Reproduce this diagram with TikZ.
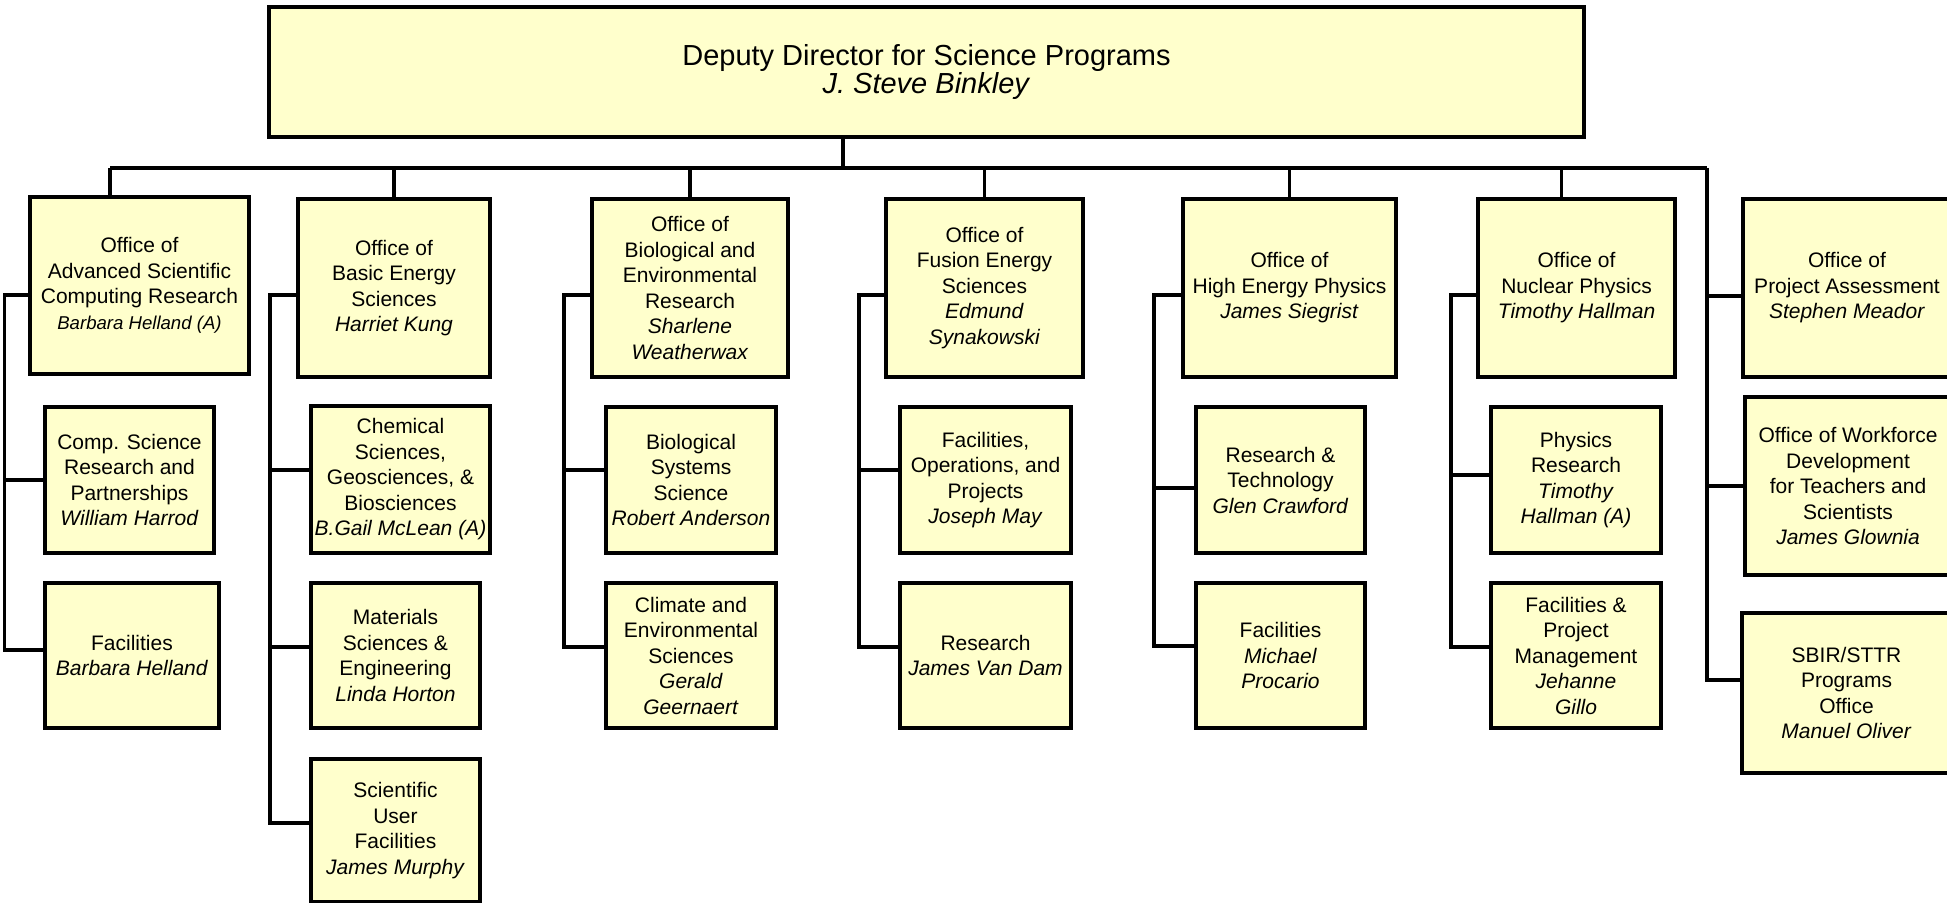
\documentclass[tikz,border=0pt]{standalone}
\usepackage{fontspec}
\setmainfont{Liberation Sans}
\usepackage{tikz}
\usetikzlibrary{calc,positioning}
\definecolor{boxfill}{RGB}{255,255,204}
\newcommand{\boxfont}{\fontsize{10.5}{12.75}\selectfont}
\tikzset{unit/.style={draw,fill=boxfill,line width=1.9pt,align=center,inner sep=1pt,font=\boxfont},
  px/.style 2 args={minimum width=#1*0.5pt,minimum height=#2*0.5pt},
  link/.style={line width=1.8pt}}

\begin{document}
\begin{tikzpicture}[x=0.5pt,y=-0.5pt]

\useasboundingbox (0,0) rectangle (1947,903);
\clip (0,0) rectangle (1947,903);

% Nodes
\node[unit,px={1315}{130},font=\fontsize{14.5}{14}\selectfont] (dd) at (926.5,72) {Deputy Director for Science Programs\\\textit{J. Steve Binkley}};

\node[unit,px={219}{177}] (ascr) at (139.5,285.5) {Office of\\Advanced Scientific\\Computing Research\\{\fontsize{9.3}{12.75}\selectfont\itshape Barbara Helland (A)}};
\node[unit,px={192}{178}] (bes) at (394,288) {Office of\\Basic Energy\\Sciences\\\textit{Harriet Kung}};
\node[unit,px={196}{178}] (ber) at (690,288) {Office of\\Biological and\\Environmental\\Research\\\textit{Sharlene}\\\textit{Weatherwax}};
\node[unit,px={197}{178}] (fes) at (984.5,288) {Office of\\Fusion Energy\\Sciences\\\textit{Edmund}\\\textit{Synakowski}};
\node[unit,px={213}{178}] (hep) at (1289.5,288) {Office of\\High Energy Physics\\\textit{James Siegrist}};
\node[unit,px={197}{178}] (np) at (1576.5,288) {Office of\\Nuclear Physics\\\textit{Timothy Hallman}};
\node[unit,px={208}{178}] (pa) at (1847,288) {Office of\\Project Assessment\\\textit{Stephen Meador}};

% The divisions
\node[unit,px={169}{146}] (csrp) at (129.5,480) {Comp. Science\\Research and\\Partnerships\\\textit{William Harrod}};
\node[unit,px={174}{145}] (afac) at (132,655.5) {Facilities\\\textit{Barbara Helland}};

\node[unit,px={179}{147}] (chem) at (400.5,479.5) {Chemical\\Sciences,\\Geosciences, \&\\Biosciences\\\textit{B.Gail McLean (A)}};
\node[unit,px={169}{145}] (mse) at (395.5,655.5) {Materials\\Sciences \&\\Engineering\\\textit{Linda Horton}};
\node[unit,px={169}{143}] (suf) at (395.5,830.5) {Scientific\\User\\Facilities\\\textit{James Murphy}};

\node[unit,px={170}{146}] (bss) at (691,480) {Biological\\Systems\\Science\\\textit{Robert Anderson}};
\node[unit,px={170}{145}] (ces) at (691,655.5) {Climate and\\Environmental\\Sciences\\\textit{Gerald}\\\textit{Geernaert}};

\node[unit,px={171}{146}] (fop) at (985.5,480) {Facilities,\\Operations, and\\Projects\\\textit{Joseph May}};
\node[unit,px={171}{145}] (fres) at (985.5,655.5) {Research\\\textit{James Van Dam}};

\node[unit,px={169}{146}] (rt) at (1280.5,480) {Research \&\\Technology\\\textit{Glen Crawford}};
\node[unit,px={169}{145}] (hfac) at (1280.5,655.5) {Facilities\\\textit{Michael}\\\textit{Procario}};

\node[unit,px={170}{146}] (phr) at (1576,480) {Physics\\Research\\\textit{Timothy}\\\textit{Hallman (A)}};
\node[unit,px={170}{145}] (fpm) at (1576,655.5) {Facilities \&\\Project\\Management\\\textit{Jehanne}\\\textit{Gillo}};

\node[unit,px={206}{178}] (wfd) at (1848,486) {Office of Workforce\\Development\\for Teachers and\\Scientists\\\textit{James Glownia}};
\node[unit,px={209}{160}] (sbir) at (1846.5,693) {SBIR/STTR\\Programs\\Office\\\textit{Manuel Oliver}};

% The bus
\coordinate (hub) at (843,168);
\coordinate (bus-l) at (110,168);
\coordinate (bus-r) at (1707,168);
\draw[link] (bus-l) -- (bus-r);
\draw[link] (dd.south -| hub) -- (hub);
\draw[link] (bus-l) -- (bus-l |- ascr.north);
\foreach \o in {bes,ber,fes,hep}
  \draw[link] (\o.north) -- (\o.north |- hub);
\draw[link] ([xshift=-7.5pt]np.north) -- ([xshift=-7.5pt]np.north |- hub);

% The spines
\coordinate (sp1) at (4.5,0);
\coordinate (sp2) at (270,0);
\coordinate (sp3) at (564,0);
\coordinate (sp4) at (859,0);
\coordinate (sp5) at (1154,0);
\coordinate (sp6) at (1451,0);

\draw[link] ([yshift=-4.75pt]ascr.west) -| ([yshift=2.75pt]afac.west -| sp1) -- ([yshift=2.75pt]afac.west);
\draw[link] (csrp.west) -- (csrp.west -| sp1);

\draw[link] ([yshift=-3.5pt]bes.west) -| ([yshift=3.75pt]suf.west -| sp2) -- ([yshift=3.75pt]suf.west);
\draw[link] ([yshift=4.75pt]chem.west) -- ([yshift=4.75pt]chem.west -| sp2);
\draw[link] ([yshift=4.25pt]mse.west) -- ([yshift=4.25pt]mse.west -| sp2);

\draw[link] ([yshift=-3.5pt]ber.west) -| ([yshift=4.25pt]ces.west -| sp3) -- ([yshift=4.25pt]ces.west);
\draw[link] ([yshift=5pt]bss.west) -- ([yshift=5pt]bss.west -| sp3);

\draw[link] ([yshift=-3.5pt]fes.west) -| ([yshift=4.25pt]fres.west -| sp4) -- ([yshift=4.25pt]fres.west);
\draw[link] ([yshift=5pt]fop.west) -- ([yshift=5pt]fop.west -| sp4);

\draw[link] ([yshift=-3.5pt]hep.west) -| ([yshift=4.75pt]hfac.west -| sp5) -- ([yshift=4.75pt]hfac.west);
\draw[link] ([yshift=-4pt]rt.west) -- ([yshift=-4pt]rt.west -| sp5);

\draw[link] ([yshift=-3.5pt]np.west) -| ([yshift=4.25pt]fpm.west -| sp6) -- ([yshift=4.25pt]fpm.west);
\draw[link] ([yshift=2.5pt]phr.west) -- ([yshift=2.5pt]phr.west -| sp6);

\draw[link] (bus-r) |- ([yshift=6.5pt]sbir.west);
\draw[link] ([yshift=-4pt]pa.west) -- ([yshift=-4pt]pa.west -| bus-r);
\draw[link] (wfd.west) -- (wfd.west -| bus-r);

\end{tikzpicture}
\end{document}
